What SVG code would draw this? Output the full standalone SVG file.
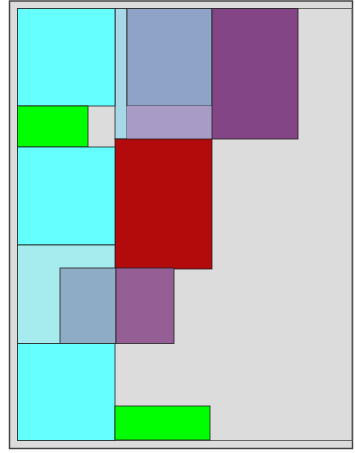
<svg xmlns="http://www.w3.org/2000/svg" width="355" height="453" viewBox="0 0 355 453">
<style>
.b{stroke:#222;stroke-width:1;stroke-opacity:0.8}
</style>
<rect x="0" y="0" width="355" height="453" fill="#ffffff"/>
<g id="frame">
<rect x="9.5" y="1" width="343" height="447.5" fill="#dcdcdc" stroke="#444" stroke-width="1.5"/>
<rect x="17.5" y="8.5" width="334.5" height="432" fill="#dcdcdc" stroke="#666" stroke-width="1"/>
</g>
<g id="column"><rect class="b" x="115" y="8.5" width="12" height="130.5" fill="#a8d8e8"/></g>
<g id="cyan1"><rect class="b" x="17.5" y="8.5" width="97.5" height="97.5" fill="#66ffff"/></g>
<g id="bluegray"><rect class="b" x="127" y="8.5" width="85" height="97.5" fill="#8fa3c8"/></g>
<g id="lavender"><rect x="127" y="106" width="85" height="33" fill="#a89cc6"/></g>
<g id="purple"><rect class="b" x="212" y="8.5" width="86" height="130.5" fill="#834585"/></g>
<g id="green1"><rect class="b" x="17.5" y="106" width="70.5" height="41" fill="#00ff00"/></g>
<g id="red"><rect class="b" x="115" y="139" width="97" height="130" fill="#b30b0b"/></g>
<g id="cyan2"><rect class="b" x="17.5" y="147" width="97.5" height="98" fill="#66ffff"/></g>
<g id="lightcyan"><rect class="b" x="17.5" y="245" width="97.5" height="98.5" fill="#a6ecee"/></g>
<g id="smallblue"><rect class="b" x="60" y="268" width="56" height="75.5" fill="#8eacc6"/></g>
<g id="smallpurple"><rect class="b" x="116" y="268" width="58" height="75.5" fill="#955f96"/></g>
<g id="cyan3"><rect class="b" x="17.5" y="343.5" width="97.5" height="97" fill="#66ffff"/></g>
<g id="green2"><rect class="b" x="115" y="406" width="95" height="34" fill="#00ff00"/></g>
<g id="connectors"></g>
</svg>
